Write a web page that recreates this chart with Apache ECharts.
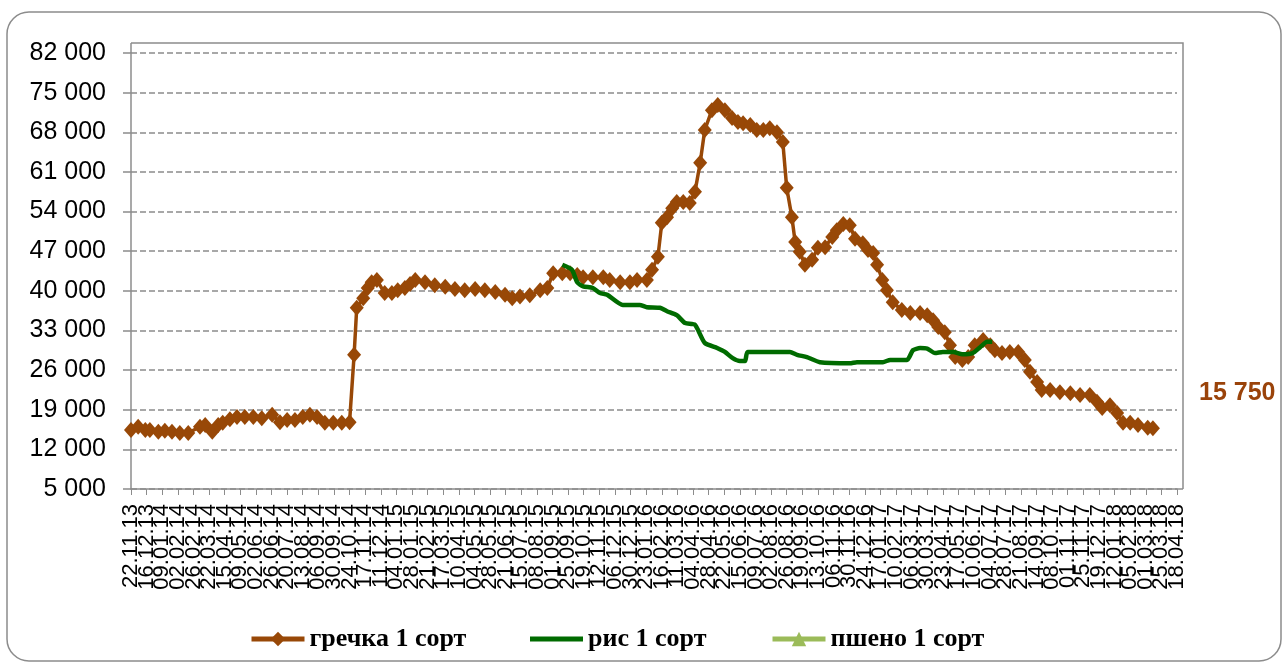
<!DOCTYPE html>
<html><head><meta charset="utf-8">
<script src="https://cdn.jsdelivr.net/npm/echarts@6/dist/echarts.min.js"></script>
<style>html,body{margin:0;padding:0;background:#fff}#c{width:1287px;height:671px}</style>
</head><body><div id="c"></div>
<script>
// x axis: days counted from 22.11.2013; tick every 24 days up to 18.04.2018
const startDateUTC = Date.UTC(2013, 10, 22);
const axisEndDay = 1608;
const xTickDays = 24;
const yMin = 5000, yMax = 82000, yStep = 7000;

const seriesNames = ['гречка 1 сорт', 'рис 1 сорт', 'пшено 1 сорт'];

const grechkaDays = [0,11,22,29,42,52,63,75,88,106,114,125,134,141,152,163,175,188,201,217,229,240,252,264,275,286,298,311,324,336,
  343,347,357,364,370,378,390,401,410,421,429,437,452,467,483,498,513,529,544,560,575,586,598,613,629,640,649,663,675,686,695,710,726,736,752,767,778,793,
  801,810,816,824,832,839,849,859,867,875,882,893,902,913,924,933,941,952,962,972,982,993,1002,1008,1016,1021,1028,1036,1047,1056,1067,1078,1085,1095,1105,
  1113,1125,1133,1141,1147,1155,1162,1171,1185,1198,1213,1224,1233,1241,1251,1259,1267,1278,1287,1297,1310,1321,1328,1339,1351,1364,1374,1382,1393,1400,
  1413,1428,1444,1459,1474,1485,1493,1505,1516,1525,1536,1548,1563,1571];
const grechkaValues = [15400,16000,15400,15400,15100,15300,15100,14900,14900,16000,16300,15100,16300,16700,17300,17700,17700,17700,17500,18100,16800,17200,17200,17700,18100,17700,16700,16700,16700,16800,
  28700,37000,38700,40500,41500,41900,39600,39600,40100,40500,41200,41900,41500,41000,40700,40300,40100,40300,40100,39800,39300,38700,39000,39200,40100,40500,43100,43100,43100,42800,42400,42400,42400,41900,41500,41500,41900,41900,
  43700,46000,52000,53000,54600,55700,55700,55500,57500,62600,68400,71900,72800,71900,70500,69800,69600,69300,68400,68400,68700,68000,66300,58200,53000,48600,46900,44600,45500,47600,47700,49500,50700,51800,51600,
  49200,48400,47200,46700,44600,41900,40100,38000,36600,36100,36100,35700,34800,33600,32700,30400,28300,27800,28300,30400,31300,30400,29500,29000,29200,29200,27800,25700,23900,22500,
  22500,22100,21900,21600,21600,20400,19300,19800,18400,16700,16700,16300,15800,15750];

const risDays = [663,678,686,695,710,721,732,756,782,793,813,824,839,852,867,882,901,913,925,936,944,948,1013,1024,1039,1059,1105,1116,1156,1167,1193,1202,1213,1224,1236,1248,1264,1278,1294,1305,1316,1324];
const risValues = [44600,43700,41500,40800,40500,39600,39300,37500,37500,37100,37000,36400,35700,34300,34000,30800,29900,29200,28100,27600,27600,29200,29200,28700,28300,27400,27200,27400,27400,27800,27800,29500,29900,29800,29000,29200,29200,28800,29000,30000,31000,31000];

const pshenoDays = [];
const pshenoValues = [];

const colors = ['#984807', '#006b00', '#9bbb59'];

function fmtNum(v) { return String(Math.round(v)).replace(/\B(?=(\d{3})+(?!\d))/g, ' '); }
function fmtDay(v) {
  const d = new Date(startDateUTC + v * 86400000);
  const p = n => (n < 10 ? '0' : '') + n;
  return p(d.getUTCDate()) + '.' + p(d.getUTCMonth() + 1) + '.' + p(d.getUTCFullYear() % 100);
}
const pair = (xs, ys) => xs.map((x, i) => [x, ys[i]]);

const chart = echarts.init(document.getElementById('c'), null, {renderer: 'canvas'});
const gridLeft = 131, gridRight = 1177, gridTop = 53, gridBottom = 489;
const legendText = {fontFamily: 'Liberation Serif, Times New Roman, serif', fontWeight: 'bold', fontSize: 26, color: '#000'};
const legendBase = {top: 621, itemWidth: 53, itemHeight: 18, itemGap: 0, textStyle: legendText, selectedMode: false, lineStyle: {width: 5}};

// every tick is labelled; the labels are split over two overlaid axes (even / odd ticks)
function xAxisFor(parity, visibleLine) {
  return {
    type: 'value', position: 'bottom', gridIndex: 0, min: 0, max: axisEndDay, interval: xTickDays,
    axisLine: {show: visibleLine, onZero: false, lineStyle: {color: '#8c8c8c', width: 1.5}},
    axisTick: {show: visibleLine, length: 6, lineStyle: {color: '#8c8c8c', width: 1}},
    splitLine: {show: false},
    axisLabel: {rotate: 90, fontSize: 22, color: '#000', margin: 15, hideOverlap: false,
                showMinLabel: true, showMaxLabel: true,
                formatter: v => (Math.round(v / xTickDays) % 2 === parity ? fmtDay(v) : '')}
  };
}

chart.setOption({
  animation: false,
  backgroundColor: '#fff',
  textStyle: {fontFamily: 'Liberation Sans, Arial, sans-serif'},
  grid: {left: gridLeft, right: 1287 - gridRight, top: gridTop, bottom: 671 - gridBottom, containLabel: false},
  xAxis: [xAxisFor(0, true), xAxisFor(1, false)],
  yAxis: {
    type: 'value', min: yMin, max: yMax, interval: yStep,
    axisLine: {show: true, lineStyle: {color: '#8c8c8c', width: 1.5}},
    axisTick: {show: true, length: 8, lineStyle: {color: '#8c8c8c', width: 1.5}},
    splitLine: {show: true, lineStyle: {color: '#8c8c8c', type: [6, 3], width: 1.5}},
    axisLabel: {fontSize: 25, color: '#000', margin: 25, formatter: fmtNum}
  },
  legend: [
    Object.assign({}, legendBase, {left: 244, data: [seriesNames[0]]}),
    Object.assign({}, legendBase, {left: 525, data: [{name: seriesNames[1], icon: 'path://M0,0H53V5H0Z'}]}),
    Object.assign({}, legendBase, {left: 765, data: [seriesNames[2]]})
  ],
  series: [
    {name: seriesNames[0], type: 'line', xAxisIndex: 0, data: pair(grechkaDays, grechkaValues), color: colors[0],
     symbol: 'diamond', symbolSize: [14, 16], lineStyle: {width: 3.5, color: colors[0]}, itemStyle: {color: colors[0]}, z: 3},
    {name: seriesNames[1], type: 'line', xAxisIndex: 0, data: pair(risDays, risValues), color: colors[1],
     symbol: 'none', smooth: 0.2, lineStyle: {width: 4.5, color: colors[1]}, itemStyle: {color: colors[1]}, z: 4},
    {name: seriesNames[2], type: 'line', xAxisIndex: 0, data: pair(pshenoDays, pshenoValues), color: colors[2],
     symbol: 'triangle', symbolSize: 16, lineStyle: {width: 5, color: colors[2]}, itemStyle: {color: colors[2]}}
  ],
  graphic: [
    {type: 'rect', shape: {x: 7, y: 12, width: 1274, height: 649, r: 22}, style: {fill: 'none', stroke: '#8c8c8c', lineWidth: 1.5}, silent: true, z: -1},
    {type: 'polyline', shape: {points: [[131, 43], [1183, 43], [1183, 489]]}, style: {fill: 'none', stroke: '#8c8c8c', lineWidth: 1.5}, silent: true},
    {type: 'line', shape: {x1: 131, y1: 43, x2: 131, y2: 53}, style: {stroke: '#8c8c8c', lineWidth: 1.5}, silent: true},
    {type: 'line', shape: {x1: 1177, y1: 489, x2: 1183, y2: 489}, style: {stroke: '#8c8c8c', lineWidth: 1.5}, silent: true},
    {type: 'text', left: 1199, top: 381, style: {text: fmtNum(grechkaValues[grechkaValues.length - 1]), fontSize: 25, fontWeight: 'bold', fill: '#9a430a', fontFamily: 'Liberation Sans, Arial, sans-serif'}, silent: true}
  ]
});
</script></body></html>
